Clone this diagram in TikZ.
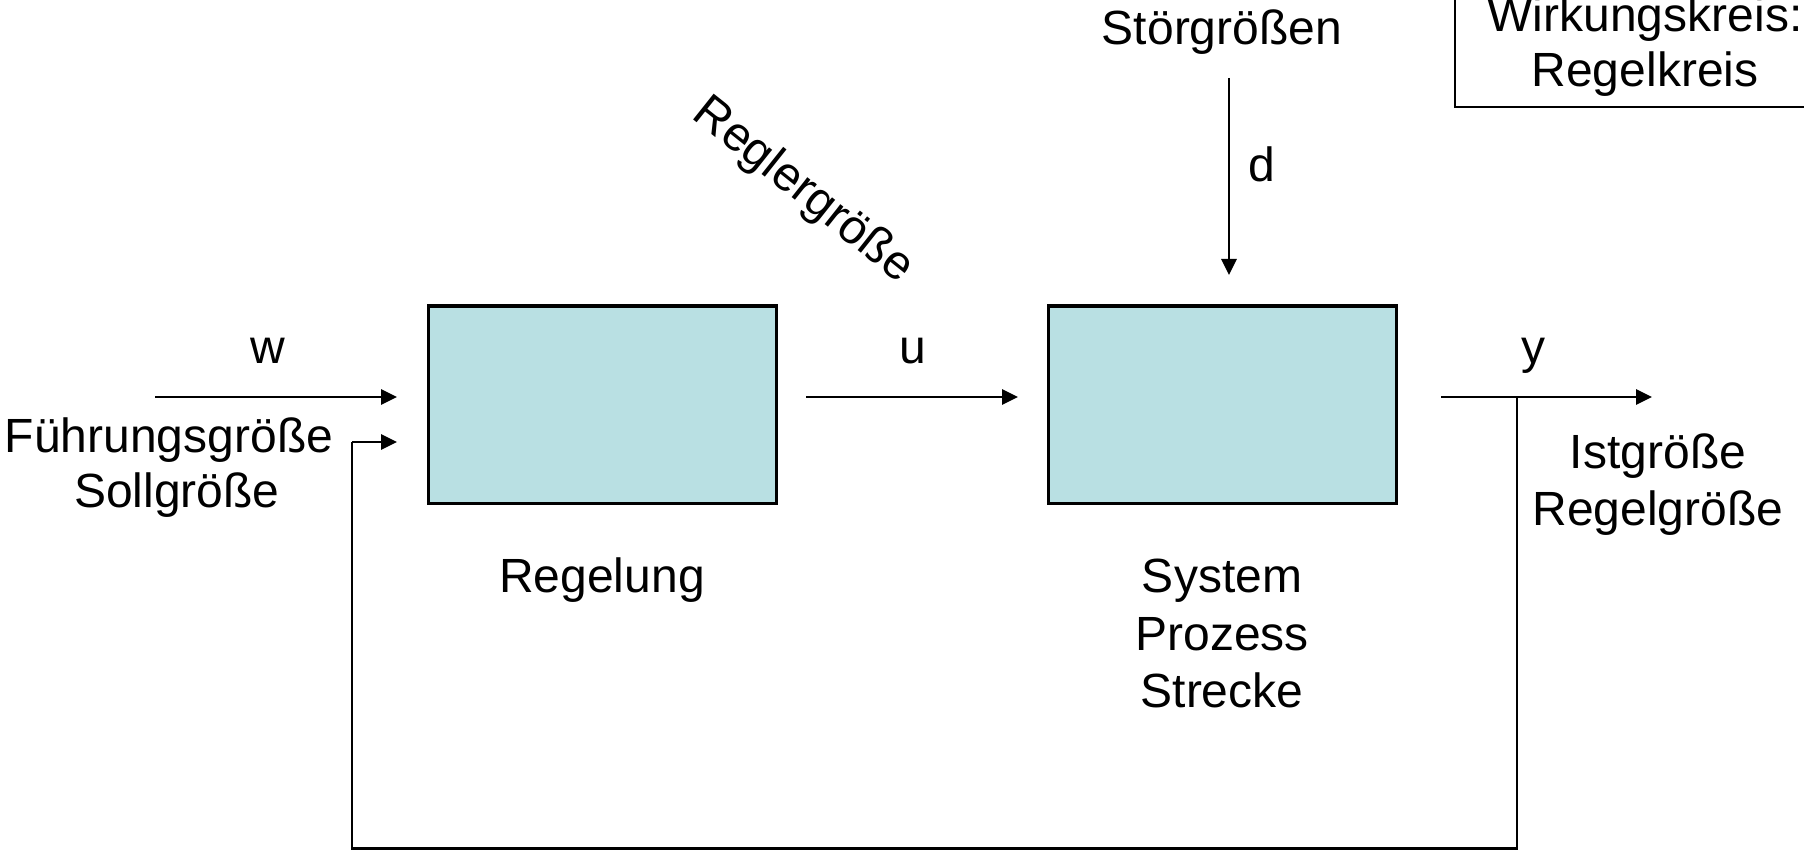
\documentclass[tikz,border=0pt]{standalone}
\usepackage{fontspec}
\setmainfont{Liberation Sans}
\usetikzlibrary{arrows.meta}
\definecolor{blockfill}{RGB}{185,224,227}
\tikzset{
  block/.style={draw=black, line width=1.5pt, fill=blockfill,
    minimum width=174pt, minimum height=98.5pt, inner sep=0pt},
  lbl/.style={inner sep=0pt, anchor=base, font=\fontsize{24}{27.5}\selectfont},
  sig/.style={line width=1.4pt, -{Triangle[length=8pt,width=7.5pt]}},
  wire/.style={line width=1.1pt},
}
\begin{document}
\begin{tikzpicture}[x=0.5pt,y=-0.5pt]
\useasboundingbox (0,0) rectangle (1804,850);
\clip (0,0) rectangle (1804,850);

% blocks
\node[block] (reg) at (602,404.5) {};
\node[block] (sys) at (1222,404.5) {};

% legend box in the upper right corner
\draw[line width=1.3pt] (1455,-20) rectangle (1840,107);
\node[lbl] (wk) at (1645,32) {Wirkungskreis:};
\node[lbl] (rk) at (1645,87) {Regelkreis};

% signal end points
\coordinate (win)  at (155,397);
\coordinate (wend) at (397,397);
\coordinate (uin)  at (806,397);
\coordinate (uend) at (1018,397);
\coordinate (yin)  at (1441,397);
\coordinate (yend) at (1652,397);
\coordinate (tap)  at (1517,397);
\coordinate (din)  at (1229,78);
\coordinate (dend) at (1229,275);
\coordinate (fbr)  at (1517,848.5);
\coordinate (fbl)  at (352,848.5);
\coordinate (fbu)  at (352,442);
\coordinate (fbend) at (397,442);

% signals
\draw[sig] (win) -- (wend);
\draw[sig] (uin) -- (uend);
\draw[sig] (yin) -- (yend);
\draw[sig] (din) -- (dend);
\draw[wire] (tap) -- (fbr) -- (fbl) -- (fbu);
\draw[sig] (fbu) -- (fbend);

% signal names
\node[lbl] (lw) at (268,363) {w};
\node[lbl] (lu) at (913,363) {u};
\node[lbl] (ly) at (1533,363) {y};
\node[lbl] (ld) at (1262,182) {d};

% descriptions
\node[lbl] (stoer) at (1222,45) {Störgrößen};
\node[lbl] (fg) at (169,452) {Führungsgröße};
\node[lbl] (sg) at (177,507) {Sollgröße};
\node[lbl] (ig) at (1658,468) {Istgröße};
\node[lbl] (rg) at (1658,525) {Regelgröße};
\node[lbl] (lreg) at (602,592) {Regelung};
\node[lbl] (ls1) at (1222,592) {System};
\node[lbl] (ls2) at (1222,650) {Prozess};
\node[lbl] (ls3) at (1222,707) {Strecke};
\node[inner sep=0pt, font=\fontsize{24}{27.5}\selectfont, rotate=-38.5]
  (rgr) at (803,191) {Reglergröße};
\end{tikzpicture}
\end{document}
